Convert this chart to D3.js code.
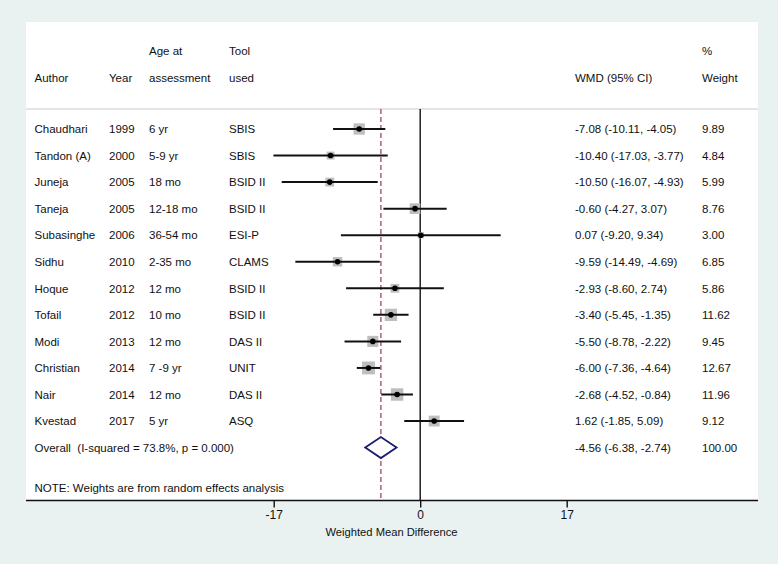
<!DOCTYPE html>
<html>
<head>
<meta charset="utf-8">
<script src="https://cdn.jsdelivr.net/npm/d3@7"></script>
<style>
  html, body { margin: 0; padding: 0; background: #e9f1f1; }
  svg { display: block; font-family: "Liberation Sans", Arial, Helvetica, sans-serif; }
</style>
</head>
<body>
<svg id="chart" width="778" height="564"></svg>
<script>
const authors = ["Chaudhari","Tandon (A)","Juneja","Taneja","Subasinghe","Sidhu","Hoque","Tofail","Modi","Christian","Nair","Kvestad"];
const years = ["1999","2000","2005","2005","2006","2010","2012","2012","2013","2014","2014","2017"];
const ages = ["6 yr","5-9 yr","18 mo","12-18 mo","36-54 mo","2-35 mo","12 mo","10 mo","12 mo","7 -9 yr","12 mo","5 yr"];
const tools = ["SBIS","SBIS","BSID II","BSID II","ESI-P","CLAMS","BSID II","BSID II","DAS II","UNIT","DAS II","ASQ"];
const wmd = [-7.08,-10.40,-10.50,-0.60,0.07,-9.59,-2.93,-3.40,-5.50,-6.00,-2.68,1.62];
const lower = [-10.11,-17.03,-16.07,-4.27,-9.20,-14.49,-8.60,-5.45,-8.78,-7.36,-4.52,-1.85];
const upper = [-4.05,-3.77,-4.93,3.07,9.34,-4.69,2.74,-1.35,-2.22,-4.64,-0.84,5.09];
const weights = ["9.89","4.84","5.99","8.76","3.00","6.85","5.86","11.62","9.45","12.67","11.96","9.12"];
const overall = {label: "Overall\u00a0 (I-squared = 73.8%, p = 0.000)", est: -4.56, lo: -6.38, hi: -2.74, weight: "100.00"};
const tickValues = [-17, 0, 17];
const note = "NOTE: Weights are from random effects analysis";
const xTitle = "Weighted Mean Difference";

const svg = d3.select("#chart");
const fs = 11.5;

// panel
svg.append("rect").attr("x", 26).attr("y", 22).attr("width", 732).attr("height", 478).attr("fill", "#ffffff");

const x = d3.scaleLinear().domain([-17, 17]).range([273.7, 566.7]);
const y = d3.scaleLinear().domain([0, 12]).range([129, 447.6]);

const fmt = v => v.toFixed(2);

// header
const hdr = svg.append("g").attr("font-size", fs).attr("fill", "#111");
const h1 = 55, h2 = 81.5;
[["Age at",149,h1],["Tool",229,h1],["%",702,h1],
 ["Author",34.5,h2],["Year",109,h2],["assessment",149,h2],["used",229,h2],["WMD (95% CI)",575,h2],["Weight",702,h2]]
 .forEach(d => hdr.append("text").attr("x", d[1]).attr("y", d[2]).text(d[0]));

// header separator
svg.append("line").attr("x1", 26).attr("x2", 758).attr("y1", 109).attr("y2", 109)
  .attr("stroke", "#c9c9d2").attr("stroke-width", 1.2);

// null line
svg.append("line").attr("x1", x(0)).attr("x2", x(0)).attr("y1", 109).attr("y2", 500)
  .attr("stroke", "#111").attr("stroke-width", 1.4);

// overall dashed line
svg.append("line").attr("x1", x(overall.est)).attr("x2", x(overall.est)).attr("y1", 109).attr("y2", 500)
  .attr("stroke", "#9a3a4e").attr("stroke-width", 1.2).attr("stroke-dasharray", "5,3");

// table text
const rows = svg.append("g").attr("font-size", fs).attr("fill", "#111");
authors.forEach((a, i) => {
  const yy = y(i) + 4.2;
  rows.append("text").attr("x", 34.5).attr("y", yy).text(a);
  rows.append("text").attr("x", 109).attr("y", yy).text(years[i]);
  rows.append("text").attr("x", 149).attr("y", yy).text(ages[i]);
  rows.append("text").attr("x", 229).attr("y", yy).text(tools[i]);
  rows.append("text").attr("x", 575).attr("y", yy)
    .text(`${fmt(wmd[i])} (${fmt(lower[i])}, ${fmt(upper[i])})`);
  rows.append("text").attr("x", 702).attr("y", yy).text(weights[i]);
});
rows.append("text").attr("x", 34.5).attr("y", y(12) + 4.2).text(overall.label);
rows.append("text").attr("x", 575).attr("y", y(12) + 4.2)
  .text(`${fmt(overall.est)} (${fmt(overall.lo)}, ${fmt(overall.hi)})`);
rows.append("text").attr("x", 702).attr("y", y(12) + 4.2).text(overall.weight);
rows.append("text").attr("x", 34.5).attr("y", 492).text(note);

// boxes
const marks = svg.append("g");
authors.forEach((a, i) => {
  const s = 3.6 * Math.sqrt(+weights[i]);
  marks.append("rect").attr("x", x(wmd[i]) - s / 2).attr("y", y(i) - s / 2)
    .attr("width", s).attr("height", s).attr("fill", "#bebebe");
});
authors.forEach((a, i) => {
  marks.append("line").attr("x1", x(lower[i])).attr("x2", x(upper[i]))
    .attr("y1", y(i)).attr("y2", y(i)).attr("stroke", "#111").attr("stroke-width", 2);
  marks.append("circle").attr("cx", x(wmd[i])).attr("cy", y(i)).attr("r", 2.8).attr("fill", "#000");
});

// diamond
const yo = y(12), dh = 10.5;
marks.append("path")
  .attr("d", `M${x(overall.lo)},${yo} L${x(overall.est)},${yo - dh} L${x(overall.hi)},${yo} L${x(overall.est)},${yo + dh} Z`)
  .attr("fill", "#ffffff").attr("stroke", "#1c1c6e").attr("stroke-width", 1.8);

// axis
const axis = d3.axisBottom(x).tickValues(tickValues).tickSize(7).tickPadding(3).tickFormat(d => String(d));
const ag = svg.append("g").attr("transform", "translate(0,500.5)").call(axis);
ag.select(".domain").remove();
ag.selectAll(".tick line").attr("stroke", "#111").attr("stroke-width", 1.4);
ag.selectAll(".tick text").attr("font-size", 12).attr("fill", "#111")
  .attr("font-family", "Liberation Sans, Arial, sans-serif");
svg.append("line").attr("x1", 26).attr("x2", 758).attr("y1", 500.5).attr("y2", 500.5)
  .attr("stroke", "#111").attr("stroke-width", 1.4);

svg.append("text").attr("x", 391.5).attr("y", 536).attr("text-anchor", "middle")
  .attr("font-size", 11.2).attr("fill", "#111").text(xTitle);
</script>
</body>
</html>
